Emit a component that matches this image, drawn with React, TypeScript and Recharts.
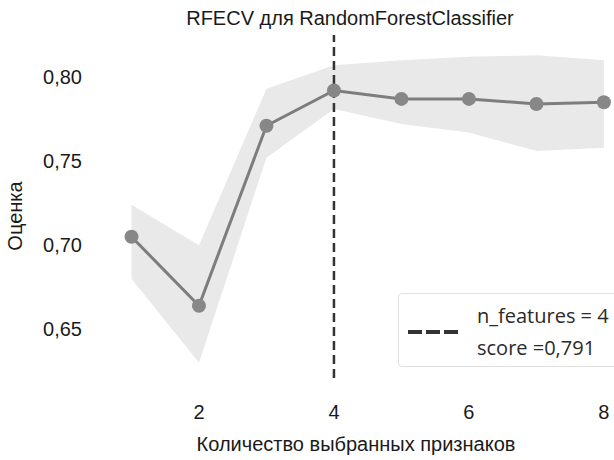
import { ComposedChart, Area, Line, XAxis, YAxis, ReferenceLine } from 'recharts';

// number of selected features
const nFeatures = [1, 2, 3, 4, 5, 6, 7, 8];
// mean CV score
const meanScore = [0.705, 0.664, 0.771, 0.792, 0.787, 0.787, 0.784, 0.785];
// band edges (mean +/- std)
const bandLow = [0.68, 0.63, 0.752, 0.781, 0.772, 0.767, 0.756, 0.758];
const bandHigh = [0.724, 0.70, 0.793, 0.807, 0.81, 0.812, 0.813, 0.81];

const xTicks = [2, 4, 6, 8];
const yTicks = [0.65, 0.7, 0.75, 0.8];

const bestN = 4;
const bestScore = '0,791';

const chartData = nFeatures.map((n, i) => ({
  n,
  score: meanScore[i],
  band: [bandLow[i], bandHigh[i]],
}));

const fmtComma = (v: number): string => v.toFixed(2).replace('.', ',');

const labelFont = '"Liberation Sans", Arial, sans-serif';
const textColor = '#1a1a1a';

// y tick labels sit well left of the plot, right-aligned
const YTick = (props: any) => {
  const { y, payload } = props;
  return (
    <text x={82} y={y} dy="0.355em" textAnchor="end" fontSize={20} fill={textColor} fontFamily={labelFont}>
      {fmtComma(payload.value)}
    </text>
  );
};

export default function App() {
  return (
    <div style={{ position: 'absolute', left: 0, top: 0, width: 614, height: 460, background: '#fff' }}>
      <ComposedChart
        width={614}
        height={460}
        data={chartData}
        margin={{ top: 35, right: 2, bottom: 0, left: 0 }}
      >
        <XAxis
          dataKey="n"
          type="number"
          domain={[0.6, 8.12]}
          ticks={xTicks}
          axisLine={false}
          tickLine={false}
          tickSize={0}
          tickMargin={27}
          height={82}
          tick={{ fontSize: 20, fill: textColor, fontFamily: labelFont }}
        />
        <YAxis
          type="number"
          domain={[0.621, 0.825]}
          ticks={yTicks}
          allowDataOverflow
          axisLine={false}
          tickLine={false}
          tickSize={0}
          width={104.5}
          tick={<YTick />}
        />
        <Area
          dataKey="band"
          type="linear"
          stroke="none"
          fill="#e9e9e9"
          fillOpacity={1}
          isAnimationActive={false}
          dot={false}
          activeDot={false}
        />
        <ReferenceLine x={bestN} stroke="#333" strokeWidth={2.5} strokeDasharray="9 5" />
        <Line
          dataKey="score"
          type="linear"
          stroke="#7d7d7d"
          strokeWidth={3}
          dot={{ r: 7, fill: '#878787', stroke: 'none' }}
          activeDot={false}
          isAnimationActive={false}
        />
      </ComposedChart>
      <svg width={614} height={460} style={{ position: 'absolute', left: 0, top: 0, pointerEvents: 'none' }}>
        <text x={350} y={25} textAnchor="middle" fontSize={20} fill={textColor} fontFamily={labelFont}>
          RFECV для RandomForestClassifier
        </text>
        <text x={356} y={451} textAnchor="middle" fontSize={20} fill={textColor} fontFamily={labelFont}>
          Количество выбранных признаков
        </text>
        <text
          x={15}
          y={216}
          transform="rotate(-90 15 216)"
          textAnchor="middle"
          dy="0.355em"
          fontSize={20}
          fill={textColor}
          fontFamily={labelFont}
        >
          Оценка
        </text>
      </svg>
      <div
        style={{
          position: 'absolute',
          left: 398,
          top: 293,
          width: 230,
          height: 74,
          border: '1px solid #e0e0e0',
          borderRadius: 4,
          boxSizing: 'border-box',
          background: '#fff',
          fontFamily: '"Open Sans", sans-serif',
          fontSize: 20,
          color: '#2a2a2a',
        }}
      >
        <svg width={52} height={10} style={{ position: 'absolute', left: 9, top: 33 }}>
          <line x1={0} y1={5} x2={50} y2={5} stroke="#333" strokeWidth={4} strokeDasharray="14 4" />
        </svg>
        <div style={{ position: 'absolute', left: 78, top: 6, lineHeight: '32px', whiteSpace: 'nowrap' }}>
          <div>n_features = {bestN}</div>
          <div>score ={bestScore}</div>
        </div>
      </div>
    </div>
  );
}
